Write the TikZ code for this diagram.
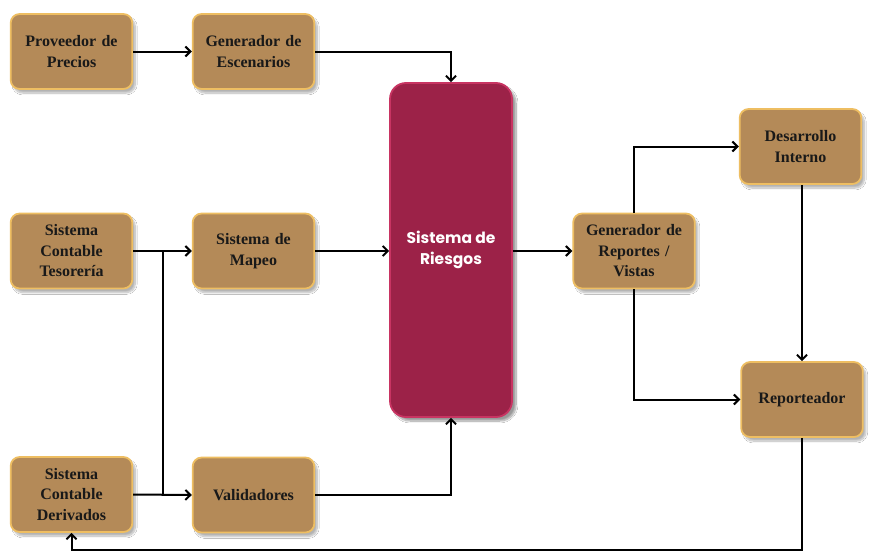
\documentclass[tikz,border=0pt]{standalone}
\usepackage{fontspec}
\setmainfont{Liberation Serif}
\newfontfamily\popfont{Poppins}
\usetikzlibrary{arrows.meta,shadows.blur}
\definecolor{tanbox}{HTML}{B48A58}
\definecolor{goldedge}{HTML}{EEBE62}
\definecolor{riesgo}{HTML}{9C2248}
\definecolor{riesgoedge}{HTML}{C83462}
\tikzset{
  box/.style={rectangle, rounded corners=9pt, fill=tanbox, draw=goldedge, line width=1.8pt,
    minimum width=121pt, minimum height=75pt, align=center, text width=115pt,
    font=\fontsize{16}{20.5}\selectfont\bfseries, text=black!90,
    blur shadow={shadow xshift=3pt, shadow yshift=-4pt, shadow blur steps=10, shadow opacity=30}},
  bigbox/.style={rectangle, rounded corners=16pt, fill=riesgo, draw=riesgoedge, line width=1.8pt,
    minimum width=122pt, minimum height=334pt, align=center, text=white,
    font=\popfont\fontsize{15.5}{21}\selectfont\bfseries,
    blur shadow={shadow xshift=4pt, shadow yshift=-4pt, shadow blur steps=10, shadow opacity=40}},
  conn/.style={line width=2pt, -{Straight Barb[length=5pt,width=10pt,line width=2pt]}},
  line/.style={line width=2pt}
}
\begin{document}
\begin{tikzpicture}[x=1pt,y=-1pt]
\useasboundingbox (0,0) rectangle (888,554);
\fill[white] (0,0) rectangle (888,554);
\node[box] (prov) at (71.5,51.5) {Proveedor de\\Precios};
\node[box] (gesc) at (253.5,51.5) {Generador de\\Escenarios};
\node[box] (teso) at (71.5,251) {Sistema\\Contable\\Tesorería};
\node[box] (mapeo) at (253.5,251) {Sistema de\\Mapeo};
\node[box] (deriv) at (71.5,494.5) {Sistema\\Contable\\Derivados};
\node[box] (valid) at (253.5,495) {Validadores};
\node[bigbox] (ries) at (451,250) {Sistema de\\Riesgos};
\node[box] (grep) at (634,251) {Generador de\\Reportes /\\Vistas};
\node[box] (desa) at (800.5,146.5) {Desarrollo\\Interno};
\node[box] (rept) at (802,399.5) {Reporteador};
\coordinate (j1) at (163,251);
\coordinate (j2) at (163,494.5);
\coordinate (bot) at (802,550);
\draw[conn] (prov.east) -- (gesc.west);
\draw[conn] (gesc.east) -| (ries.north);
\draw[conn] (teso.east) -- (mapeo.west);
\draw[line] (j1) -- (j2);
\draw[conn] (deriv.east) -- (valid.west);
\draw[conn] (mapeo.east) -- (ries.west |- mapeo.east);
\draw[conn] (valid.east) -| (ries.south);
\draw[conn] (ries.east |- grep.west) -- (grep.west);
\draw[conn] (grep.north) |- (desa.west);
\draw[conn] (grep.south) |- (rept.west);
\draw[conn] (desa.south -| rept.north) -- (rept.north);
\draw[conn] (rept.south) -- (bot) -| (deriv.south);
\end{tikzpicture}
\end{document}
